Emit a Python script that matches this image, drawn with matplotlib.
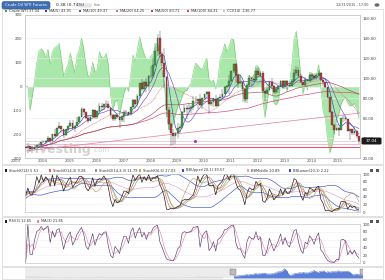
import matplotlib
matplotlib.use("Agg")
import matplotlib.pyplot as plt
from matplotlib.patches import Rectangle, FancyBboxPatch
import numpy as np
import pandas as pd

W, H = 385, 280

# WTI crude, monthly candles, Jul 2003 .. Dec 2015
first_month = 2003 + 6 / 12
first_open = 30.19
closes = [
    30.54, 31.57, 29.20, 29.11, 30.41, 32.52,
    33.05, 36.16, 35.76, 37.38, 39.88, 37.05, 43.80, 42.12, 49.64, 51.76, 49.13, 43.45,
    48.20, 51.75, 55.40, 49.72, 51.97, 56.50, 60.57, 68.94, 66.24, 59.76, 57.32, 61.04,
    67.92, 61.41, 66.63, 71.88, 71.29, 73.93, 74.40, 70.26, 62.91, 58.73, 63.13, 61.05,
    58.14, 61.79, 65.87, 65.71, 64.01, 70.68, 78.21, 74.04, 81.66, 94.53, 88.71, 95.98,
    91.75, 101.84, 101.58, 113.46, 127.35, 140.00, 124.08, 115.46, 100.64, 67.81, 54.43, 44.60,
    41.68, 44.76, 49.66, 51.12, 66.31, 69.89, 69.45, 69.96, 70.61, 77.00, 77.28, 79.36,
    72.89, 79.66, 83.76, 86.15, 73.97, 75.63, 78.95, 71.92, 79.97, 81.43, 84.11, 91.38,
    92.19, 96.97, 106.72, 113.93, 102.70, 95.42, 95.70, 88.81, 79.20, 93.19, 100.36, 98.83,
    98.48, 107.07, 103.02, 104.87, 86.53, 84.96, 88.06, 96.47, 92.19, 86.24, 88.91, 91.82,
    97.49, 92.05, 97.23, 93.46, 91.97, 96.56, 105.03, 107.65, 102.33, 96.38, 92.72, 98.42,
    97.49, 102.59, 101.58, 99.74, 102.71, 105.37, 98.17, 95.96, 91.16, 80.54, 66.15, 53.27,
    48.24, 49.76, 47.60, 59.63, 60.30, 59.47, 47.12, 49.20, 45.09, 46.59, 41.65, 37.04,
]
highs = [
    32.2, 32.9, 31.7, 31.9, 33.0, 33.0,
    35.2, 36.4, 38.2, 38.3, 42.3, 40.1, 44.2, 49.4, 50.5, 55.7, 52.0, 46.6,
    49.0, 52.1, 57.6, 58.3, 52.2, 60.9, 62.3, 70.9, 69.8, 66.2, 62.1, 61.9,
    68.8, 68.3, 67.2, 75.4, 74.6, 74.2, 78.4, 77.0, 70.5, 62.6, 63.2, 64.3,
    61.4, 62.5, 68.1, 67.9, 66.5, 70.8, 78.8, 78.8, 84.1, 94.7, 99.3, 96.8,
    100.1, 102.6, 111.8, 119.9, 135.1, 143.7, 147.3, 126.0, 130.0, 102.1, 71.0, 54.7,
    49.0, 45.6, 54.7, 53.9, 66.6, 73.4, 73.4, 75.0, 72.9, 82.0, 82.0, 79.5,
    83.9, 80.5, 83.9, 87.1, 87.1, 79.4, 79.7, 83.0, 80.1, 84.4, 88.6, 91.8,
    92.6, 103.4, 106.9, 113.9, 114.8, 103.4, 100.6, 95.7, 90.5, 94.6, 103.4, 102.4,
    103.7, 109.8, 110.5, 106.4, 106.7, 86.7, 92.9, 97.4, 100.4, 93.0, 90.1, 91.9,
    98.2, 98.2, 97.8, 97.8, 96.1, 99.0, 108.9, 112.2, 110.7, 104.0, 95.8, 100.8,
    99.2, 104.3, 105.2, 104.9, 104.7, 107.7, 105.6, 98.5, 95.8, 91.5, 80.6, 67.4,
    53.6, 54.2, 52.5, 59.9, 62.6, 61.6, 59.0, 49.3, 49.0, 50.9, 48.4, 42.0,
]
lows = [
    29.3, 30.3, 26.0, 28.0, 28.4, 29.8,
    32.2, 32.5, 34.9, 33.9, 37.0, 35.5, 36.9, 41.5, 41.7, 48.6, 45.4, 40.3,
    42.1, 44.6, 51.3, 49.4, 46.2, 52.0, 56.0, 60.6, 62.6, 59.0, 55.5, 56.6,
    60.6, 59.0, 59.0, 66.4, 67.3, 68.1, 71.4, 69.8, 60.0, 56.6, 57.2, 59.3,
    50.5, 56.5, 56.5, 62.7, 61.6, 64.1, 69.6, 69.0, 71.3, 79.7, 87.1, 86.0,
    86.1, 86.6, 98.7, 100.3, 110.8, 122.3, 121.0, 112.0, 90.5, 61.3, 48.3, 32.4,
    33.2, 33.6, 40.0, 45.1, 49.2, 65.0, 59.5, 66.3, 65.0, 68.0, 75.1, 69.5,
    72.4, 69.5, 78.2, 81.5, 64.2, 71.9, 71.5, 70.8, 72.6, 79.7, 80.1, 84.4,
    85.1, 84.1, 96.3, 104.8, 94.6, 89.6, 94.0, 75.7, 77.1, 74.9, 91.6, 92.5,
    96.3, 96.8, 102.6, 101.2, 86.3, 77.3, 83.7, 87.8, 90.5, 84.1, 84.1, 84.7,
    91.7, 90.3, 89.3, 85.6, 91.0, 91.7, 95.6, 102.2, 101.3, 95.5, 91.8, 91.8,
    91.2, 96.4, 97.4, 98.4, 98.2, 102.1, 97.2, 92.5, 90.4, 79.4, 64.8, 52.8,
    44.2, 47.4, 42.0, 49.1, 56.5, 57.0, 46.7, 37.8, 43.2, 43.0, 40.0, 34.5,
]
opens = [first_open] + closes[:-1]  # futures month opens at prior settle

# long history for the navigator strip (annual averages 1983-2002)
nav_years = list(range(1983, 2003))
nav_prices = [29.1, 28.8, 26.9, 14.4, 19.2, 16.0, 19.6, 24.5, 21.5, 20.6,
              18.4, 17.2, 18.4, 22.1, 20.6, 14.4, 19.3, 30.4, 25.9, 26.1]

years = list(range(2003, 2016))
price_ticks = [20, 40, 60, 80, 100, 120, 140, 160]
cci_ticks = [-300, -200, -100, 0, 100, 200, 300]
osc_ticks = [0, 20, 40, 60, 80, 100]

# drawing objects on the main chart
level_prices = [31.0, 34.5, 37.5]
level_colors = ["#e0304a", "#f0b0c0", "#e8c8d8"]
trend_dates = [2003.55, 2016.0]
trend_prices = [27.0, 65.0]
dot_date, dot_price = 2009.85, 37.0

UP, DOWN = "#3fa33f", "#c23a3a"
FS = 2.9


def px_axes(x0, y0, x1, y1):
    return fig.add_axes([x0 / W, 1 - y1 / H, (x1 - x0) / W, (y1 - y0) / H])


def fx(x):
    return x / W


def fy(y):
    return 1 - y / H


def style(ax):
    for s in ax.spines.values():
        s.set_color("#c8c8c8")
        s.set_linewidth(0.5)
    ax.tick_params(length=0, labelsize=FS, colors="#444444", pad=2)
    ax.set_xticks([])


def legend_row(items, y):
    for x, color, text in items:
        fig.patches.append(Rectangle((fx(x - 1.2), fy(y + 1.2)), 2.4 / W, 2.4 / H,
                                     transform=fig.transFigure, color=color, lw=0))
        fig.text(fx(x + 3), fy(y), text, fontsize=2.6, color="#333333", va="center")


t = np.array([first_month + (i + 0.5) / 12 for i in range(len(closes))])
c = pd.Series(closes)
h = pd.Series(highs)
lo = pd.Series(lows)

ma = {n: c.rolling(n, min_periods=1).mean() for n in (5, 10, 20, 50, 100)}

tp = (h + lo + c) / 3
tp_ma = tp.rolling(14, min_periods=3).mean()
md = tp.rolling(14, min_periods=3).apply(lambda v: np.mean(np.abs(v - v.mean())), raw=True)
cci = ((tp - tp_ma) / (0.015 * md)).fillna(0)

ll = lo.rolling(14, min_periods=1).min()
hh = h.rolling(14, min_periods=1).max()
k_fast = 100 * (c - ll) / (hh - ll)
k_slow = k_fast.rolling(3, min_periods=1).mean()
d_slow = k_slow.rolling(3, min_periods=1).mean()
ll6 = lo.rolling(6, min_periods=1).min()
hh6 = h.rolling(6, min_periods=1).max()
k6 = (100 * (c - ll6) / (hh6 - ll6)).rolling(6, min_periods=1).mean()
bb_mid = k_slow.rolling(20, min_periods=1).mean()
bb_sd = k_slow.rolling(20, min_periods=2).std().bfill()
bb_up = bb_mid + bb_sd
bb_lo = bb_mid - bb_sd

delta = c.diff().fillna(0)
gain = delta.clip(lower=0).ewm(alpha=1 / 3, adjust=False).mean()
loss = (-delta.clip(upper=0)).ewm(alpha=1 / 3, adjust=False).mean()
rsi = 100 - 100 / (1 + gain / loss.replace(0, 1e-9))
rsi_ma = rsi.rolling(3, min_periods=1).mean()

fig = plt.figure(figsize=(W / 100, H / 100), dpi=100)
fig.patch.set_facecolor("white")

# frames around the panels
for y0, y1 in [(9, 164), (165, 216), (217, 266), (267, 279)]:
    fig.patches.append(Rectangle((fx(2), fy(y1)), 381 / W, (y1 - y0) / H,
                                 transform=fig.transFigure, fill=False,
                                 ec="#d4d4d4", lw=0.5))

# header tab
fig.patches.append(FancyBboxPatch((fx(2), fy(9)), 48 / W, 7.5 / H,
                                  boxstyle="round,pad=0,rounding_size=0.006",
                                  transform=fig.transFigure, fc="#3f6fb3", ec="#2c5590", lw=0.4))
fig.text(fx(5), fy(5.3), "Crude Oil WTI Futures", fontsize=2.7, color="white", va="center")
fig.text(fx(56), fy(5.3), "0.38 (0.74%)", fontsize=3.2, color="#222222", va="center")
fig.patches.append(FancyBboxPatch((fx(78), fy(7.5)), 14 / W, 4 / H,
                                  boxstyle="round,pad=0,rounding_size=0.005",
                                  transform=fig.transFigure, fc="#e4e4e4", ec="none"))
fig.text(fx(94), fy(5.3), "Live", fontsize=2.4, color="#666666", va="center")
fig.text(fx(368), fy(5), "12/31/2015 - 17:00", fontsize=2.4, color="#444444",
         va="center", ha="right")
fig.patches.append(plt.Circle((fx(377), fy(5)), 2.4 / W, transform=fig.transFigure,
                              fc="#6a6a6a", ec="none"))

# main panel
ax_cci = px_axes(25, 15, 360, 158)
style(ax_cci)
ax_cci.set_xlim(2003.52, 2016.0)
ax_cci.set_ylim(-300, 300)
ax_cci.set_yticks(cci_ticks)
ax_cci.set_yticklabels([str(v) for v in cci_ticks])
ax_cci.fill_between(t, cci, 0, color="#9be39b", alpha=0.85, lw=0)
ax_cci.plot(t, cci, color="#62c862", lw=0.35)
ax_cci.axhline(0, color="#e2e2e2", lw=0.4)

ax = ax_cci.twinx()
style(ax)
ax.set_xlim(2003.52, 2016.0)
ax.set_ylim(20, 163)
ax.set_yticks(price_ticks)
ax.set_yticklabels([f"{v:.2f}" for v in price_ticks])
for v in price_ticks:
    ax.axhline(v, color="#ececec", lw=0.4, zorder=0)

for lvl, col in zip(level_prices, level_colors):
    ax.axhline(lvl, color=col, lw=0.6)
ax.plot(trend_dates, trend_prices, color="#e07c9c", lw=0.5)
ax.plot(dot_date, dot_price, "o", ms=1.2, color="#8a3fd0")

ax.plot(t, ma[100], color="#d04070", lw=0.45)
ax.plot(t, ma[50], color="#a8504f", lw=0.45)
ax.plot(t, ma[20], color="#e06a8a", lw=0.45, ls=(0, (1.5, 1)))
ax.plot(t, ma[10], color="#7a4bc0", lw=0.45)
ax.plot(t, ma[5], color="#2d43c8", lw=0.45)

o = np.array(opens)
cl = np.array(closes)
up = cl >= o
cols = np.where(up, UP, DOWN)
ax.vlines(t, lows, highs, color="#333333", lw=0.3)
ax.bar(t, np.maximum(np.abs(cl - o), 0.4), bottom=np.minimum(o, cl), width=0.066,
       color=cols, edgecolor="#2a2a2a", linewidth=0.2, zorder=3)

# last price box
fig.patches.append(FancyBboxPatch((fx(361.5), fy(144.5)), 20 / W, 7 / H,
                                  boxstyle="round,pad=0,rounding_size=0.004",
                                  transform=fig.transFigure, fc="#1a1a1a", ec="none"))
fig.text(fx(371.5), fy(141), f"{closes[-1]:.2f}", fontsize=3, color="white",
         ha="center", va="center")

fig.text(fx(26), fy(149), "investing", fontsize=9, fontweight="bold",
         color="#9c9c9c", alpha=0.45, va="center")
fig.text(fx(92), fy(150.5), ".com", fontsize=5, color="#9c9c9c", alpha=0.45, va="center")

for yr in years:
    fig.text(fx(25 + (yr - 2003.52) * 335 / 12.48), fy(161.5), str(yr),
             fontsize=FS, color="#555555", va="center")

legend_row([
    (6, UP, f"Crude WTI {closes[-1]:.2f}"),
    (46, "#2d43c8", f"MA(5) {ma[5].iloc[-1]:.2f}"),
    (80, "#7a4bc0", f"MA(10) {ma[10].iloc[-1]:.2f}"),
    (117, "#e06a8a", f"MA(20) {ma[20].iloc[-1]:.2f}"),
    (152, "#a8504f", f"MA(50) {ma[50].iloc[-1]:.2f}"),
    (188, "#d04070", f"MA(100) {ma[100].iloc[-1]:.2f}"),
    (224, "#9be39b", f"CCI(14) {cci.iloc[-1]:.2f}"),
], 11)

# stochastic panel
ax2 = px_axes(25, 174, 360, 212)
style(ax2)
ax2.yaxis.tick_right()
ax2.set_xlim(2003.52, 2016.0)
ax2.set_ylim(0, 100)
ax2.set_yticks(osc_ticks)
for v in osc_ticks[1:-1]:
    ax2.axhline(v, color="#efefef", lw=0.4, zorder=0)
ax2.plot(t, bb_up, color="#3a4fd0", lw=0.45)
ax2.plot(t, bb_lo, color="#3a4fd0", lw=0.45)
ax2.plot(t, bb_mid, color="#e8a0c8", lw=0.45)
ax2.plot(t, k6, color="#c8a060", lw=0.45)
ax2.plot(t, d_slow, color="#70b070", lw=0.45)
ax2.plot(t, k_slow, color="#e06060", lw=0.45)
ax2.plot(t, k_fast, color="#222222", lw=0.5)
legend_row([
    (6, "#222222", f"StochK(14) {k_fast.iloc[-1]:.2f}"),
    (50, "#e06060", f"StochK(14,3) {k_slow.iloc[-1]:.2f}"),
    (96, "#70b070", f"StochD(14,3,3) {d_slow.iloc[-1]:.2f}"),
    (140, "#c8a060", f"StochK(6,6) {k6.iloc[-1]:.2f}"),
    (183, "#3a4fd0", f"BBUpper(20,1) {bb_up.iloc[-1]:.2f}"),
    (248, "#e8a0c8", f"BBMiddle {bb_mid.iloc[-1]:.2f}"),
    (290, "#3a4fd0", f"BBLower(20,1) {bb_lo.iloc[-1]:.2f}"),
], 170.5)

# RSI panel
ax3 = px_axes(25, 224, 360, 263)
style(ax3)
ax3.yaxis.tick_right()
ax3.set_xlim(2003.52, 2016.0)
ax3.set_ylim(0, 100)
ax3.set_yticks(osc_ticks)
for v in osc_ticks[1:-1]:
    ax3.axhline(v, color="#efefef", lw=0.4, zorder=0)
ax3.plot(t, rsi_ma, color="#e08ab8", lw=0.45)
ax3.plot(t, rsi, color="#5a3a6a", lw=0.45)
legend_row([
    (6, "#222222", f"RSI(3) {rsi.iloc[-1]:.2f}"),
    (38, "#e08ab8", f"MA(3) {rsi_ma.iloc[-1]:.2f}"),
], 221.5)

# panel icons
for y in (170, 221):
    for x in (371, 377):
        fig.patches.append(Rectangle((fx(x - 1.5), fy(y + 1.5)), 3 / W, 3 / H,
                                     transform=fig.transFigure, fc="#555555", ec="none"))

# navigator
axn = px_axes(25, 267, 363, 278)
axn.set_axis_off()
axn.set_xlim(1983.5, 2016.0)
axn.set_ylim(0, 165)
axn.axvspan(1983.5, first_month, color="#ececec", lw=0)
ny = np.array(nav_years) + 0.5
axn.fill_between(ny, nav_prices, 0, color="#dcdcdc", lw=0)
axn.fill_between(t, closes, 0, color="#5b7fd6", lw=0)
axn.plot(t, closes, color="#3a5fc0", lw=0.3)
for xe in (first_month, 2016.0):
    axn.add_patch(Rectangle((xe - 0.25, 40), 0.5, 90, fc="#bbbbbb", ec="#777777", lw=0.3))

fig.savefig("out.png", dpi=100)
